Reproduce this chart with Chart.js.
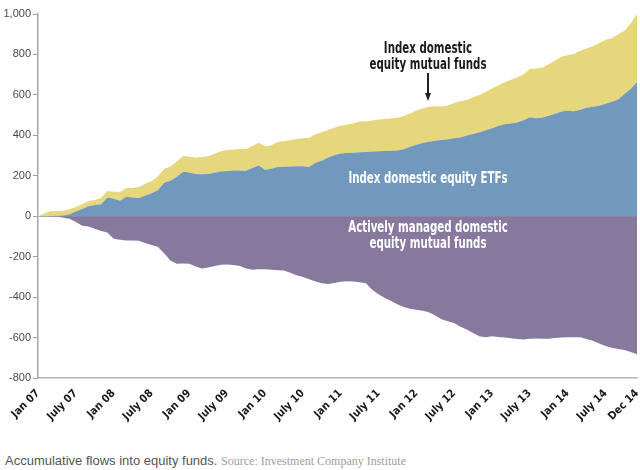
<!DOCTYPE html>
<html>
<head>
<meta charset="utf-8">
<script src="https://cdn.jsdelivr.net/npm/chart.js@4.4.1/dist/chart.umd.min.js"></script>
<style>
  body { margin: 0; background: #fff; width: 640px; height: 470px; overflow: hidden; position: relative; }
  #wrap { position: absolute; left: 0; top: 0; width: 640px; height: 440px; }
  .note { position: absolute; font-family: "DejaVu Sans Condensed", sans-serif; font-weight: bold; font-size: 15px; line-height: 16px; text-align: center; white-space: nowrap; transform: translateX(-50%) scaleX(0.76); }
  .dark { color: #1a1a1a; }
  .light { color: #fff; }
  #arrowLine { position: absolute; left: 427px; top: 73px; width: 1.5px; height: 22px; background: #222; }
  #arrowHead { position: absolute; left: 424.5px; top: 93px; width: 0; height: 0; border-left: 3.5px solid transparent; border-right: 3.5px solid transparent; border-top: 8px solid #222; }
  #caption { position: absolute; left: 5px; top: 453px; font-family: "Liberation Sans", Arial, sans-serif; font-size: 13px; color: #555; white-space: nowrap; }
  #caption span { font-family: "Liberation Serif", "DejaVu Serif", serif; font-size: 12px; color: #a0a0a0; }
</style>
</head>
<body>
<div id="wrap"><canvas id="flowsChart"></canvas></div>
<div class="note dark" style="left:428px; top:40px;">Index domestic<br>equity mutual funds</div>
<div id="arrowLine"></div><div id="arrowHead"></div>
<div class="note light" style="left:428px; top:170px;">Index domestic equity ETFs</div>
<div class="note light" style="left:428px; top:219px;">Actively managed domestic<br>equity mutual funds</div>
<div id="caption">Accumulative flows into equity funds. <span>Source: Investment Company Institute</span></div>
<script>
// months Jan 07 .. Dec 14
const monthNames = ['Jan', 'Feb', 'Mar', 'Apr', 'May', 'June', 'July', 'Aug', 'Sep', 'Oct', 'Nov', 'Dec'];
const years = ['07', '08', '09', '10', '11', '12', '13', '14'];
const categories = [];
years.forEach(y => monthNames.forEach(m => categories.push(m + ' ' + y)));

const tickLabels = ['Jan 07', 'July 07', 'Jan 08', 'July 08', 'Jan 09', 'July 09', 'Jan 10', 'July 10',
    'Jan 11', 'July 11', 'Jan 12', 'July 12', 'Jan 13', 'July 13', 'Jan 14', 'July 14', 'Dec 14'];

// cumulative flows, $ billions
const etfFlows = [
    0, 0, 1, 2, 4, 10, 23, 36, 49, 55, 59, 92,
    86, 76, 96, 92, 90, 103, 114, 129, 165, 176, 194, 220,
    216, 209, 208, 209, 215, 221, 224, 226, 226, 225, 238, 251,
    230, 235, 243, 245, 246, 247, 247, 243, 265, 274, 291, 302,
    310, 313, 314, 316, 318, 320, 321, 322, 324, 325, 331, 344,
    354, 362, 368, 373, 377, 381, 385, 389, 399, 406, 415, 425,
    435, 446, 455, 458, 463, 474, 490, 484, 488, 497, 507, 518,
    521, 519, 527, 536, 541, 546, 556, 566, 577, 605, 629, 664
];
const indexMutualFlows = [
    0, 13, 25, 24, 23, 24, 22, 23, 26, 25, 31, 33,
    35, 43, 44, 48, 55, 57, 60, 67, 69, 70, 75, 78,
    78, 82, 85, 87, 94, 100, 103, 104, 106, 108, 109, 112,
    116, 116, 124, 127, 131, 135, 138, 145, 140, 141, 135, 135,
    138, 140, 144, 152, 151, 153, 157, 159, 161, 162, 165, 164,
    169, 171, 173, 171, 165, 166, 175, 181, 176, 182, 185, 189,
    197, 202, 208, 217, 223, 228, 238, 246, 248, 255, 262, 271,
    275, 283, 291, 293, 299, 311, 315, 314, 322, 312, 324, 336
];
const activeFlows = [
    0, 0, 0, -1, -7, -13, -28, -47, -51, -62, -73, -80,
    -111, -116, -120, -120, -121, -132, -142, -151, -183, -219, -235, -234,
    -235, -249, -258, -253, -246, -240, -239, -241, -246, -258, -265, -262,
    -262, -265, -267, -269, -280, -292, -301, -312, -323, -332, -335, -330,
    -324, -322, -323, -326, -332, -364, -386, -405, -419, -435, -449, -457,
    -462, -467, -475, -491, -509, -519, -528, -546, -560, -577, -593, -598,
    -594, -597, -600, -604, -607, -609, -606, -605, -606, -606, -602, -600,
    -599, -599, -599, -607, -616, -629, -642, -651, -656, -662, -672, -682
];

const area = (label, data, color, fill, stack) => ({
    label, data, stack, fill,
    backgroundColor: color, borderColor: color,
    borderWidth: 0, pointRadius: 0, tension: 0
});

new Chart(document.getElementById('flowsChart'), {
    type: 'line',
    data: {
        labels: categories,
        datasets: [
            area('Index domestic equity ETFs', etfFlows, '#7198bd', 'origin', 'pos'),
            area('Index domestic equity mutual funds', indexMutualFlows, '#e6d77d', '-1', 'pos'),
            area('Actively managed domestic equity mutual funds', activeFlows, '#87799d', 'origin', 'neg')
        ]
    },
    options: {
        responsive: true,
        maintainAspectRatio: false,
        animation: false,
        layout: { padding: { top: 14, right: 3, left: 0, bottom: 0 } },
        plugins: { legend: { display: false }, tooltip: { enabled: false } },
        scales: {
            x: {
                stacked: true,
                grid: { display: true, drawOnChartArea: false, drawTicks: false },
                border: { display: true, color: '#b5b5b5', width: 1.5 },
                ticks: {
                    autoSkip: false, minRotation: 45, maxRotation: 45, padding: 9,
                    color: '#1a1a1a',
                    font: { family: '"DejaVu Sans Condensed", sans-serif', size: 11, weight: 'bold' },
                    callback: function (v, i) {
                        const lab = categories[i];
                        return tickLabels.includes(lab) ? lab : '';
                    }
                },
                afterFit: s => { s.height = 62; s.paddingLeft = 0; s.paddingRight = 0; }
            },
            y: {
                stacked: true,
                min: -800, max: 1000,
                grid: {
                    drawOnChartArea: true, tickLength: 5,
                    color: c => (c.tick && c.tick.value === 0 ? '#9aa5b1' : 'rgba(0,0,0,0)'),
                    tickColor: '#a0a0a0'
                },
                border: { display: true, color: '#a8a8a8', width: 1.5 },
                ticks: {
                    stepSize: 200, padding: 2, color: '#4a4a4a',
                    font: { family: '"Liberation Sans", Arial, sans-serif', size: 11 }
                },
                afterFit: s => { s.width = 38; }
            }
        }
    }
});
</script>
</body>
</html>
